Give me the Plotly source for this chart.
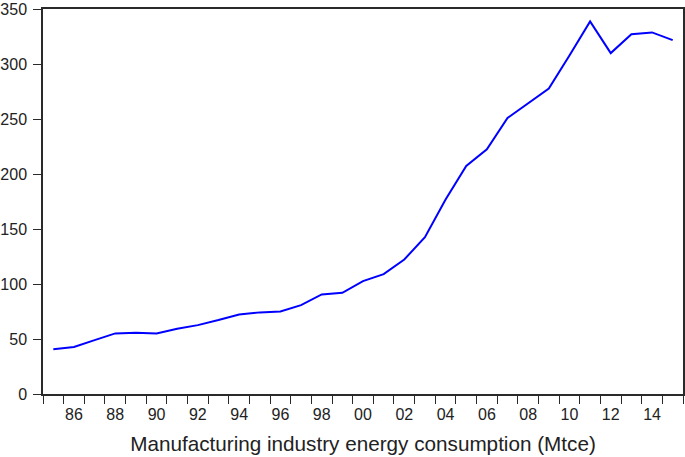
import plotly.graph_objects as go

years = list(range(1985, 2016))
energy = [40.6, 42.7, 49.0, 55.1, 55.7, 55.0, 59.3, 62.6, 67.2, 72.3,
          74.2, 75.0, 80.8, 90.5, 92.0, 102.6, 109.0, 122.3, 142.5, 176.8,
          207.3, 222.4, 250.9, 263.9, 277.6, 307.8, 338.7, 309.9, 327.1, 328.7,
          321.7]
tick_years = list(range(1986, 2015, 2))
tick_labels = [f"{y % 100:02d}" for y in tick_years]
y_ticks = [0, 50, 100, 150, 200, 250, 300, 350]

fig = go.Figure()
fig.add_trace(go.Scatter(x=years, y=energy, mode="lines",
                         line=dict(color="#0000FF", width=2), showlegend=False))

axis_col = "#2a2a2a"
fig.update_layout(
    width=685, height=457,
    margin=dict(l=43, r=2, t=8.5, b=63),
    paper_bgcolor="white", plot_bgcolor="white",
    font=dict(family="Liberation Sans, Arial, sans-serif", size=16, color="#222"),
    xaxis=dict(
        range=[1984.5, 2015.5], tickmode="array", tickvals=tick_years,
        ticktext=tick_labels, ticks="", showgrid=False, zeroline=False,
        showline=True, linecolor=axis_col, linewidth=1.5, mirror=True,
        automargin=False,
        minor=dict(tickmode="linear", tick0=1984.5, dtick=1, ticks="outside",
                   ticklen=8, tickwidth=1.3, tickcolor=axis_col, showgrid=False),
        title=dict(text="Manufacturing industry energy consumption (Mtce)",
                   font=dict(size=20.7, color="#222")),
        tickfont=dict(size=16, color="#222"),
        ticklabelstandoff=5,
    ),
    yaxis=dict(
        range=[0, 350], tickmode="array", tickvals=y_ticks,
        ticks="outside", ticklen=8, tickwidth=1.3, tickcolor=axis_col,
        showgrid=False, zeroline=False, showline=True, linecolor=axis_col,
        linewidth=1.5, mirror=True, tickfont=dict(size=16, color="#222"),
        automargin=False, ticklabelstandoff=3,
    ),
)

fig.write_html("out.html", config={"displayModeBar": False},
               post_script="document.body.style.margin='0';")
